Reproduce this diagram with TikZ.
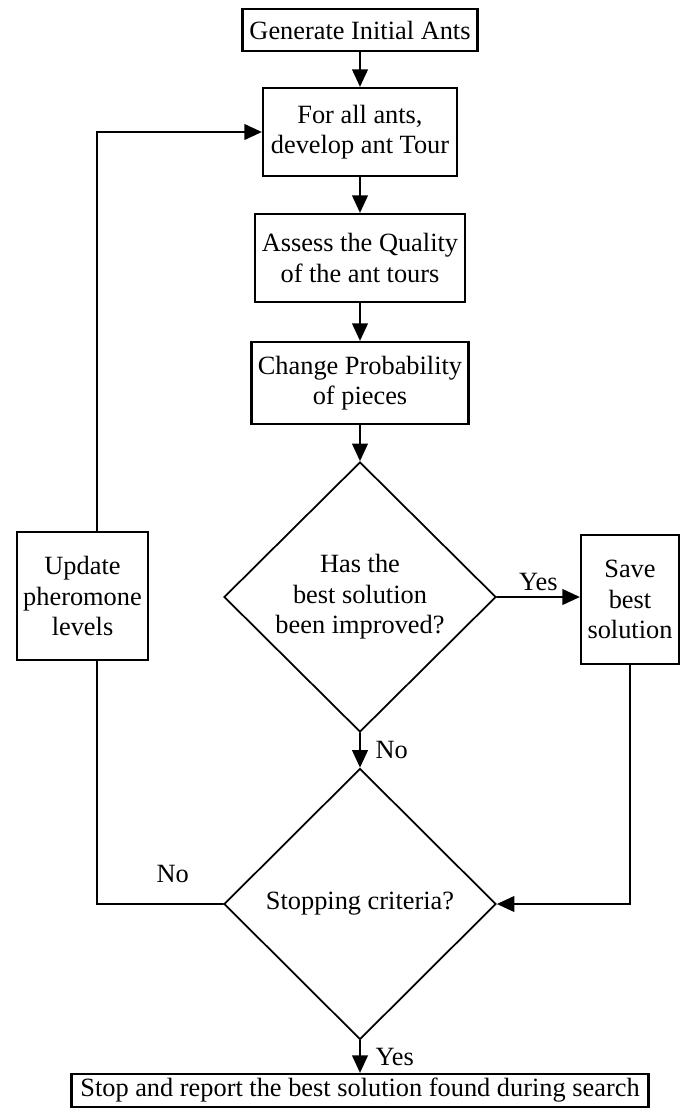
\documentclass[tikz,border=0pt]{standalone}
\usepackage{fontspec}
\setmainfont{Liberation Serif}
\usetikzlibrary{shapes.geometric,arrows.meta}

\begin{document}
\begin{tikzpicture}[line cap=round,line join=miter,
  font=\fontsize{15}{17.3}\selectfont,
  caja/.style={draw,line width=1.3pt,align=center,inner sep=0pt,fill=white},
  rombo/.style={draw,diamond,aspect=1,line width=1pt,align=center,inner sep=0pt},
  flecha/.style={line width=1pt,-{Triangle[length=10pt,width=9pt]}},
  linea/.style={line width=1pt}]
  \useasboundingbox (0,0) rectangle (13.66,-22.16);

  % Cajas de la columna central
  \node[caja,minimum width=4.7cm,minimum height=0.84cm] (init) at (7.2,-0.6) {Generate Initial Ants};
  \node[caja,minimum width=3.88cm,minimum height=1.76cm] (tour) at (7.2,-2.64) {For all ants,\\develop ant Tour};
  \node[caja,minimum width=4.2cm,minimum height=1.76cm] (assess) at (7.2,-5.16) {Assess the Quality\\of the ant tours};
  \node[caja,minimum width=4.34cm,minimum height=1.64cm] (change) at (7.2,-7.66) {Change Probability\\of pieces};

  % Decisiones
  \node[rombo,minimum width=5.44cm,minimum height=5.4cm] (mejor) at (7.2,-11.94) {Has the\\best solution\\been improved?};
  \node[rombo,minimum width=5.44cm,minimum height=5.42cm] (parada) at (7.2,-18.08) {Stopping criteria?};

  % Cajas laterales y final
  \node[caja,minimum width=1.96cm,minimum height=2.58cm] (save) at (12.6,-11.99) {Save\\best\\solution};
  \node[caja,minimum width=2.62cm,minimum height=2.56cm] (update) at (1.65,-11.92) {Update\\pheromone\\levels};
  \node[caja,minimum width=11.54cm,minimum height=0.66cm] (stop) at (7.2,-21.81) {Stop and report the best solution found during search};

  % Carril del lazo
  \coordinate (carril) at (1.94,0);

  % Flechas
  \draw[flecha] (init) -- (tour);
  \draw[flecha] (tour) -- (assess);
  \draw[flecha] (assess) -- (change);
  \draw[flecha] (change) -- (mejor);
  \draw[flecha] (mejor.east) -- node[above] {Yes} (mejor.east -| save.west);
  \draw[flecha] (mejor) -- node[right=5pt] {No} (parada);
  \draw[flecha] (save.south) |- (parada.east);
  \draw[flecha] (parada) -- node[right=5pt] {Yes} (stop);

  % Lazo de vuelta
  \draw[linea] (parada.west) -| node[above=8pt,pos=0.2] {No} (update.south -| carril);
  \draw[flecha] (update.north -| carril) |- (tour.west);
\end{tikzpicture}
\end{document}
